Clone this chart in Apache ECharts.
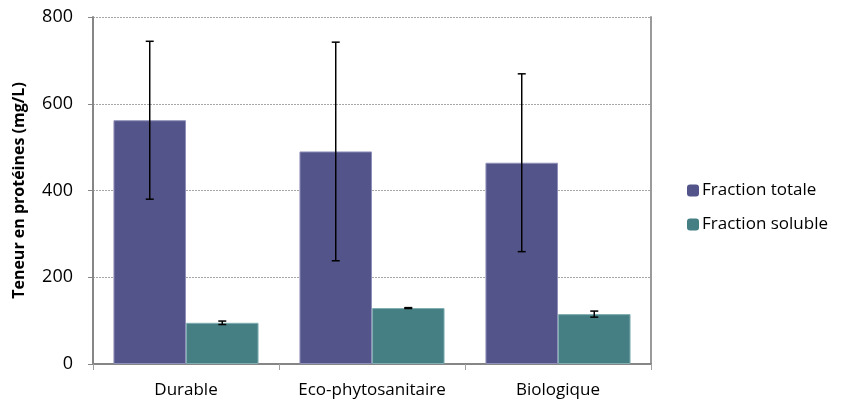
<!DOCTYPE html>
<html>
<head>
<meta charset="utf-8">
<script src="https://cdn.jsdelivr.net/npm/echarts@6/dist/echarts.min.js"></script>
<style>
html, body { margin: 0; padding: 0; background: #fff; }
#chart { width: 843px; height: 403px; }
</style>
</head>
<body>
<div id="chart"></div>
<script>
var categories = ['Durable', 'Eco-phytosanitaire', 'Biologique'];
var totale = [562, 490, 464];
var totaleErr = [182, 252, 205];
var soluble = [95, 129, 115];
var solubleErr = [4, 1, 7];
var yTicks = [0, 200, 400, 600, 800];

var myChart = echarts.init(document.getElementById('chart'));

// barres d'erreur, décalées sur la barre correspondante
function errorBars(values, errs, side) {
    return {
        type: 'custom',
        z: 10,
        silent: true,
        data: values.map(function (v, i) { return [i, v - errs[i], v + errs[i]]; }),
        renderItem: function (params, api) {
            var band = api.size([1, 0])[0];
            var off = side * band * 0.195;
            var lo = api.coord([api.value(0), api.value(1)]);
            var hi = api.coord([api.value(0), api.value(2)]);
            var x = lo[0] + off;
            var cap = 6;
            var st = { stroke: '#000', lineWidth: 1.5 };
            return {
                type: 'group',
                children: [
                    { type: 'line', shape: { x1: x, y1: lo[1], x2: x, y2: hi[1] }, style: st },
                    { type: 'line', shape: { x1: x - cap / 2 - 1, y1: lo[1], x2: x + cap / 2 + 1, y2: lo[1] }, style: st },
                    { type: 'line', shape: { x1: x - cap / 2 - 1, y1: hi[1], x2: x + cap / 2 + 1, y2: hi[1] }, style: st }
                ]
            };
        }
    };
}

var option = {
    animation: false,
    textStyle: { fontFamily: 'Open Sans' },
    grid: { left: 93, right: 192, top: 17, bottom: 39 },
    legend: {
        orient: 'vertical',
        left: 682,
        top: 177,
        itemWidth: 12,
        itemHeight: 12,
        itemGap: 17,
        itemStyle: { borderWidth: 0 },
        textStyle: { fontSize: 17, color: '#000', fontFamily: 'Open Sans', padding: [0, 0, 0, -2] },
        data: ['Fraction totale', 'Fraction soluble']
    },
    xAxis: {
        type: 'category',
        data: categories,
        axisLine: { lineStyle: { color: '#868686', width: 2 } },
        axisTick: { show: true, length: 6, lineStyle: { color: '#a0a0a0', width: 1 } },
        axisLabel: { fontSize: 17, color: '#000', margin: 18, interval: 0, hideOverlap: false }
    },
    yAxis: [{
        type: 'value',
        min: 0,
        max: 800,
        interval: 200,
        name: 'Teneur en protéines (mg/L)',
        nameLocation: 'middle',
        nameGap: 66,
        nameTextStyle: { fontSize: 16, fontWeight: 'bold', color: '#000' },
        axisLine: { show: true, lineStyle: { color: '#868686', width: 2 } },
        axisTick: { show: true, length: 5, lineStyle: { color: '#868686' } },
        axisLabel: {
            fontSize: 18, color: '#000', margin: 20,
            formatter: function (v) { return yTicks.indexOf(v) >= 0 ? String(v) : ''; }
        },
        splitLine: { show: true, lineStyle: { color: '#a6a6a6', type: [2, 1], width: 1 } }
    }, {
        type: 'value',
        min: 0,
        max: 800,
        position: 'right',
        axisLine: { show: true, lineStyle: { color: '#9a9a9a', width: 2 } },
        axisTick: { show: false },
        axisLabel: { show: false },
        splitLine: { show: false }
    }],
    series: [{
        name: 'Fraction totale',
        type: 'bar',
        data: totale,
        barGap: '0%',
        barCategoryGap: '22%',
        itemStyle: { color: '#53548a', borderColor: '#8f90b8', borderWidth: 1 }
    }, {
        name: 'Fraction soluble',
        type: 'bar',
        data: soluble,
        itemStyle: { color: '#457f84', borderColor: '#80aeb2', borderWidth: 1 }
    },
    errorBars(totale, totaleErr, -1),
    errorBars(soluble, solubleErr, 1)
    ]
};

myChart.setOption(option);
</script>
</body>
</html>
